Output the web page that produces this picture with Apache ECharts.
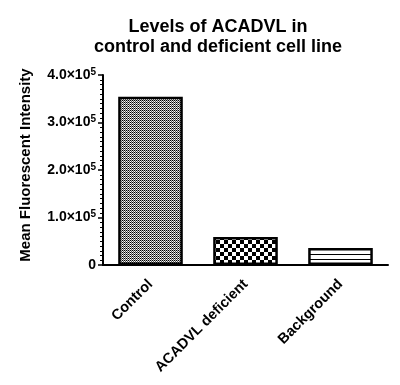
<!DOCTYPE html>
<html><head><meta charset="utf-8">
<script src="https://cdn.jsdelivr.net/npm/echarts@6/dist/echarts.min.js"></script>
<style>html,body{margin:0;padding:0;background:#fff}#c{width:400px;height:385px}</style>
</head><body><div id="c"></div>
<script>
const categories = ['Control', 'ACADVL deficient', 'Background'];
const values = [354000, 59000, 36000];
const yTicks = [0, 100000, 200000, 300000, 400000];
const tickLabels = {0: '0', 100000: '1.0×10', 200000: '2.0×10', 300000: '3.0×10', 400000: '4.0×10'};

function pat(w, h, draw) {
  const c = document.createElement('canvas'); c.width = w; c.height = h;
  const g = c.getContext('2d'); g.fillStyle = '#fff'; g.fillRect(0, 0, w, h);
  g.fillStyle = '#000'; draw(g); return c;
}
const fine = pat(2, 2, g => { g.fillRect(0, 0, 1, 1); g.fillStyle = '#555'; g.fillRect(1, 1, 1, 1); g.fillStyle = '#bbb'; g.fillRect(1,0,1,1); });
const coarse = pat(8, 8, g => { g.fillRect(0, 0, 4, 4); g.fillRect(4, 4, 4, 4); });
const stripes = pat(4, 5, g => { g.fillRect(0, 4, 4, 1); });
const fills = [fine, coarse, stripes];

const chart = echarts.init(document.getElementById('c'));
const F = 'Liberation Sans, Arial, sans-serif';
chart.setOption({
  animation: false,
  title: {
    text: 'Levels of ACADVL in\ncontrol and deficient cell line',
    left: 213, top: 12, textAlign: 'center',
    textStyle: {fontFamily: F, fontWeight: 'bold', fontSize: 18, lineHeight: 20, color: '#000'}
  },
  grid: {left: 103, right: 12, top: 75, bottom: 120, containLabel: false},
  xAxis: {
    type: 'category', data: categories,
    axisLine: {lineStyle: {color: '#000', width: 2}},
    axisTick: {alignWithLabel: true, length: 5, lineStyle: {color: '#000', width: 1.5}},
    axisLabel: {rotate: 45, fontFamily: F, fontWeight: 'bold', fontSize: 14.5, color: '#000', margin: 17, interval: 0}
  },
  yAxis: {
    type: 'value', min: 0, max: 400000, interval: 100000,
    name: 'Mean Fluorescent Intensity', nameLocation: 'middle', nameGap: 70,
    nameTextStyle: {fontFamily: F, fontWeight: 'bold', fontSize: 15, color: '#000', padding: [0, 0, 0, 10]},
    axisLine: {show: true, lineStyle: {color: '#000', width: 2}},
    axisTick: {show: true, length: 5, lineStyle: {color: '#000', width: 1.5}},
    minorTick: {show: true, splitNumber: 10, length: 3, lineStyle: {color: '#000', width: 1}},
    splitLine: {show: false},
    axisLabel: {
      margin: 7, fontFamily: F, fontWeight: 'bold', fontSize: 14, color: '#000',
      formatter: v => v === 0 ? '{a|0}' : '{a|' + tickLabels[v] + '}{b|5}',
      rich: {
        a: {fontFamily: F, fontWeight: 'bold', fontSize: 14, color: '#000', lineHeight: 16},
        b: {fontFamily: F, fontWeight: 'bold', fontSize: 10, color: '#000', verticalAlign: 'top', lineHeight: 16, padding: [0,0,7,0]}
      }
    }
  },
  series: [{
    type: 'bar', barWidth: '68%',
    data: values.map((v, i) => ({value: v, itemStyle: {color: {image: fills[i], repeat: 'repeat'}}})),
    itemStyle: {borderColor: '#000', borderWidth: 2.5}
  }]
});
</script></body></html>
